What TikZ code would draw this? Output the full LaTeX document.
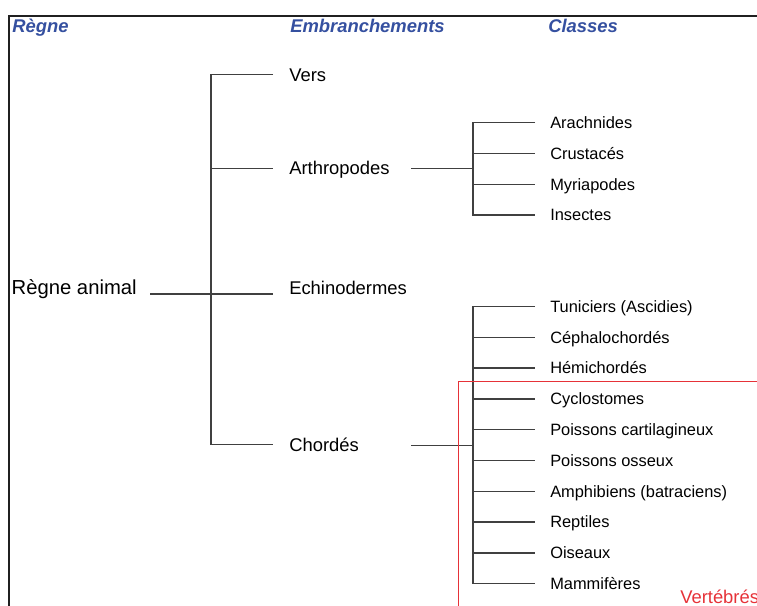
\documentclass[tikz,border=0pt]{standalone}
\usepackage{fontspec}
\setmainfont{Liberation Sans}
\usepackage{xcolor}
\usetikzlibrary{positioning}
\definecolor{headblue}{HTML}{3550A0}
\definecolor{vertred}{HTML}{E63238}
\definecolor{linkgray}{HTML}{404040}
\definecolor{framegray}{HTML}{202020}
\tikzset{
  link/.style={linkgray, line width=1pt},
  outerframe/.style={framegray, line width=1.6pt},
  vertbox/.style={vertred, line width=0.9pt},
  header/.style={headblue, anchor=base west, inner sep=0pt, font=\fontsize{13.8}{16}\selectfont\bfseries\itshape},
  regne/.style={anchor=base east, inner xsep=9.75pt, inner ysep=1pt, font=\fontsize{15.2}{18}\selectfont},
  embr/.style={anchor=west, inner xsep=12pt, inner ysep=0pt, text height=9.9pt, text depth=0pt, font=\fontsize{13.8}{16}\selectfont},
  classe/.style={anchor=west, inner xsep=11.25pt, inner ysep=0pt, text height=8.8pt, text depth=0pt, font=\fontsize{12.3}{14}\selectfont},
  vertlabel/.style={vertred, anchor=base west, inner sep=0pt, font=\fontsize{13.8}{16}\selectfont}
}
\begin{document}
\begin{tikzpicture}[x=0.75pt, y=-0.75pt]
  \useasboundingbox (0,0) rectangle (757,606);
  \clip (0,0) rectangle (757,606);
  \draw[outerframe] (9,16) rectangle (800,700);
  \node[header] (hregne) at (12,32.5) {Règne};
  \node[header] (hembr) at (290,32.5) {Embranchements};
  \node[header] (hclass) at (548,32.5) {Classes};

  \node[regne] (animal) at (150,294) {Règne animal};
  \node[embr] (vers) at (273,74.5) {Vers};
  \node[embr] (arthro) at (273,168.3) {Arthropodes};
  \node[embr, anchor=base west] (echino) at (273,294) {Echinodermes};
  \node[embr] (chord) at (273,444.5) {Chordés};
  \coordinate (spineA) at (211,294);
  \draw[link] (animal.base east) -- (echino.base west);
  \draw[link] (vers.west) -| (spineA) |- (chord.west);
  \draw[link] (spineA |- arthro.west) -- (arthro.west);

  \node[classe] (arach) at (535,122.7) {Arachnides};
  \node[classe] (crust) at (535,153.5) {Crustacés};
  \node[classe] (myria) at (535,184.3) {Myriapodes};
  \node[classe] (insect) at (535,215.1) {Insectes};
  \coordinate (jA) at (411,168.3);
  \coordinate (kA) at (473,168.3);
  \draw[link] (jA) -- (kA);
  \draw[link] (arach.west) -| (kA) |- (insect.west);
  \draw[link] (kA |- crust.west) -- (crust.west);
  \draw[link] (kA |- myria.west) -- (myria.west);

  \node[classe] (tunic) at (535,306.5) {Tuniciers (Ascidies)};
  \node[classe] (cepha) at (535,337.3) {Céphalochordés};
  \node[classe] (hemi) at (535,368.1) {Hémichordés};
  \node[classe] (cyclo) at (535,398.9) {Cyclostomes};
  \node[classe] (cartil) at (535,429.7) {Poissons cartilagineux};
  \node[classe] (osseux) at (535,460.5) {Poissons osseux};
  \node[classe] (amphi) at (535,491.3) {Amphibiens (batraciens)};
  \node[classe] (rept) at (535,522.1) {Reptiles};
  \node[classe] (ois) at (535,552.9) {Oiseaux};
  \node[classe] (mammi) at (535,583.7) {Mammifères};
  \coordinate (jC) at (411,445.5);
  \coordinate (kC) at (473,445.5);
  \draw[link] (jC) -- (kC);
  \draw[link] (tunic.west) -| (kC) |- (mammi.west);
  \foreach \n in {cepha,hemi,cyclo,cartil,osseux,amphi,rept,ois}
    \draw[link] (kC |- \n.west) -- (\n.west);

  \draw[vertbox] (458.3,381.5) rectangle (780,640);
  \node[vertlabel] (vert) at (680,603) {Vertébrés};
\end{tikzpicture}
\end{document}
